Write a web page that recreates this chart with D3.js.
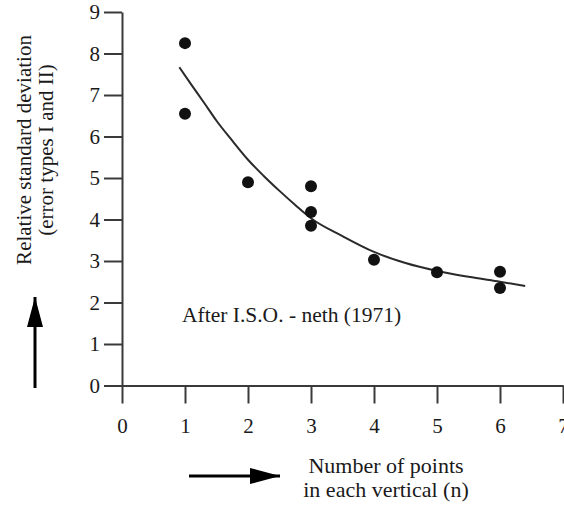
<!DOCTYPE html>
<html>
<head>
<meta charset="utf-8">
<script src="https://cdn.jsdelivr.net/npm/d3@7"></script>
<style>
  body { margin: 0; background: #fff; }
  svg { display: block; }
  text { font-family: "Liberation Serif", "Times New Roman", serif; fill: #1a1a1a; }
</style>
</head>
<body>
<svg id="chart" width="564" height="506"></svg>
<script>
// data
var xTicks = [0, 1, 2, 3, 4, 5, 6, 7];
var yTicks = [0, 1, 2, 3, 4, 5, 6, 7, 8, 9];
var ptN = [1, 1, 2, 3, 3, 3, 4, 5, 6, 6];
var ptV = [8.25, 6.55, 4.9, 4.8, 4.18, 3.85, 3.03, 2.73, 2.74, 2.35];
// fitted curve (hand drawn in the original)
var fitN = [0.91, 1.1, 1.3, 1.5, 1.75, 2, 2.25, 2.5, 2.75, 3, 3.5, 4, 4.5, 5, 5.5, 6, 6.4];
var fitV = [7.67, 7.25, 6.82, 6.38, 5.9, 5.44, 5.05, 4.69, 4.35, 4.03, 3.6, 3.22, 2.95, 2.76, 2.62, 2.5, 2.4];
var note = "After I.S.O. - neth (1971)";
var yTitle = ["Relative standard deviation", "(error types I and II)"];
var xTitle = ["Number of points", "in each vertical (n)"];

let svg = d3.select("#chart");
let axisColor = "#3a3a3a";

let x = d3.scaleLinear().domain([0, 7]).range([122, 563]);
let y = d3.scaleLinear().domain([0, 9]).range([385.5, 12]);

let x_axis = g => g
    .attr("transform", `translate(0, ${y(0)})`)
    .call(d3.axisBottom(x).tickValues(xTicks).tickFormat(d3.format("d"))
        .tickSize(18).tickSizeOuter(0).tickPadding(15));
let y_axis = g => g
    .attr("transform", `translate(${x(0)}, 0)`)
    .call(d3.axisLeft(y).tickValues(yTicks).tickFormat(d3.format("d"))
        .tickSize(18).tickSizeOuter(0).tickPadding(4));

[x_axis, y_axis].forEach(a => {
    let g = svg.append("g").call(a);
    g.select(".domain").attr("stroke", axisColor).attr("stroke-width", 2);
    g.selectAll(".tick line").attr("stroke", axisColor).attr("stroke-width", 2);
    g.selectAll(".tick text")
        .style("font-family", "Liberation Serif, serif")
        .style("font-size", "21px")
        .attr("fill", "#1a1a1a");
});

// fitted curve
let line = d3.line()
    .x((d, i) => x(fitN[i]))
    .y((d, i) => y(fitV[i]))
    .curve(d3.curveMonotoneX);
svg.append("path")
    .datum(fitN)
    .attr("fill", "none")
    .attr("stroke", "#2a2a2a")
    .attr("stroke-width", 2)
    .attr("d", line);

// measured points
svg.append("g").selectAll("circle")
    .data(ptN)
    .join("circle")
    .attr("cx", (d, i) => x(ptN[i]))
    .attr("cy", (d, i) => y(ptV[i]))
    .attr("r", 6)
    .attr("fill", "#111");

svg.append("text")
    .attr("x", 182)
    .attr("y", 322)
    .style("font-size", "21.5px")
    .text(note);

// arrow head
svg.append("defs").append("marker")
    .attr("id", "head")
    .attr("viewBox", "0 0 30 16")
    .attr("refX", 30).attr("refY", 8)
    .attr("markerWidth", 30).attr("markerHeight", 16)
    .attr("markerUnits", "userSpaceOnUse")
    .attr("orient", "auto")
    .append("path")
    .attr("d", "M0,0 L30,8 L0,16 Z")
    .attr("fill", "#000");

// y title + arrow
let yt = svg.append("text")
    .attr("transform", "translate(31, 150) rotate(-90)")
    .attr("text-anchor", "middle")
    .style("font-size", "21px");
yt.selectAll("tspan").data(yTitle).join("tspan")
    .attr("x", 0)
    .attr("dy", (d, i) => i == 0 ? 0 : "1.05em")
    .text(d => d);

svg.append("path")
    .attr("d", d3.line()([[35, 388], [35, 297]]))
    .attr("stroke", "#000")
    .attr("stroke-width", 3)
    .attr("marker-end", "url(#head)");

// x title + arrow
let xt = svg.append("text")
    .attr("transform", "translate(386, 473)")
    .attr("text-anchor", "middle")
    .style("font-size", "22px");
xt.selectAll("tspan").data(xTitle).join("tspan")
    .attr("x", 0)
    .attr("dy", (d, i) => i == 0 ? 0 : "1.1em")
    .text(d => d);

svg.append("path")
    .attr("d", d3.line()([[189, 476], [280, 476]]))
    .attr("stroke", "#000")
    .attr("stroke-width", 3)
    .attr("marker-end", "url(#head)");
</script>
</body>
</html>
